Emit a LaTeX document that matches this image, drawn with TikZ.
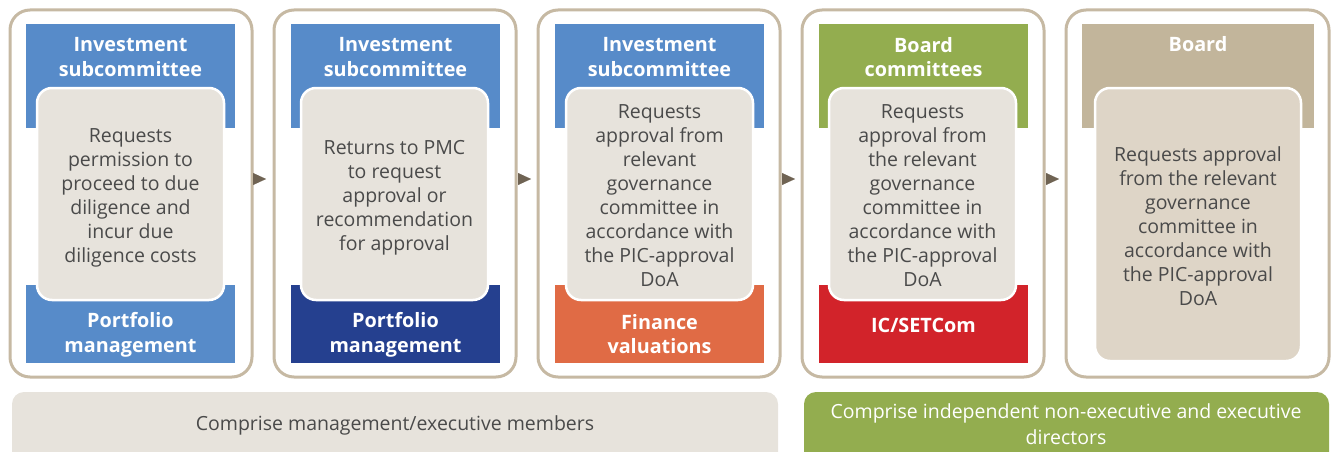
\documentclass[tikz,border=0pt]{standalone}
\usepackage{fontspec}
\setmainfont{Open Sans}
\usetikzlibrary{arrows.meta}
\definecolor{bordc}{HTML}{C6B9A3}
\definecolor{ublue}{HTML}{578BC9}
\definecolor{dblue}{HTML}{25408F}
\definecolor{uorange}{HTML}{E06B45}
\definecolor{ugreen}{HTML}{93AD4F}
\definecolor{ured}{HTML}{D2232A}
\definecolor{utan}{HTML}{C2B59B}
\definecolor{innerc}{HTML}{E7E3DC}
\definecolor{innerd}{HTML}{DED5C7}
\definecolor{txtc}{HTML}{4A4A4A}
\definecolor{arrc}{HTML}{6F6353}
\begin{document}
\begin{tikzpicture}[x=1pt,y=-1pt,
  panel/.style={draw=bordc, line width=3pt, rounded corners=20pt, fill=white,
    minimum width=242pt, minimum height=367pt, anchor=north west, outer sep=0pt, inner sep=0pt},
  hdr/.style={draw=none, minimum width=209pt, minimum height=104pt, anchor=north west, outer sep=0pt, inner sep=0pt},
  ftr/.style={draw=none, minimum width=209pt, minimum height=78pt, anchor=north west, outer sep=0pt, inner sep=0pt},
  htext/.style={text=white, font={\fontsize{19.8}{24.5}\selectfont\bfseries}, align=center, inner sep=0pt},
  inbox/.style={draw=white, line width=2.5pt, fill=innerc, rounded corners=15pt,
    minimum width=187pt, minimum height=212pt, anchor=north west, outer sep=0pt, inner sep=0pt},
  itext/.style={text=txtc, font={\fontsize{19.5}{24}\selectfont}, align=center, inner sep=0pt},
  botbar/.style={draw=none, rounded corners=12pt, minimum height=80pt, anchor=north west, outer sep=0pt, inner sep=0pt},
  btext/.style={font={\fontsize{19.5}{25.5}\selectfont}, align=center, inner sep=0pt},
  arr/.style={draw=arrc, line width=0.1pt, -{Triangle[length=13pt,width=12pt]}, arrc}
]
\useasboundingbox (0,0) rectangle (1332,452);
\clip (0,0) rectangle (1332,452);

% panels
\node[panel] (p1) at (10,10) {};
\node[panel] (p2) at (274,10) {};
\node[panel] (p3) at (538,10) {};
\node[panel] (p4) at (802,10) {};
\node[panel, minimum width=263pt] (p5) at (1066,10) {};

% headers
\node[hdr, fill=ublue] (h1) at (26,24) {};
\node[hdr, fill=ublue] (h2) at (291,24) {};
\node[hdr, fill=ublue] (h3) at (555,24) {};
\node[hdr, fill=ugreen] (h4) at (819,24) {};
\node[hdr, fill=utan, minimum width=232pt] (h5) at (1082,24) {};

% footers
\node[ftr, fill=ublue] (f1) at (26,285) {};
\node[ftr, fill=dblue] (f2) at (291,285) {};
\node[ftr, fill=uorange] (f3) at (555,285) {};
\node[ftr, fill=ured] (f4) at (819,285) {};

% header texts
\node[htext, anchor=north] (ht1) at (130.5,37.5) {Investment\\subcommittee};
\node[htext, anchor=north] (ht2) at (395.5,37.5) {Investment\\subcommittee};
\node[htext, anchor=north] (ht3) at (659.5,37.5) {Investment\\subcommittee};
\node[htext, anchor=north] (ht4) at (923.5,37) {Board\\committees};
\node[htext, anchor=north] (ht5) at (1198,36.5) {Board};

% footer texts
\node[htext] (ft1) at (130.5,335) {Portfolio\\management};
\node[htext] (ft2) at (395.5,335) {Portfolio\\management};
\node[htext] (ft3) at (659.5,334) {Finance\\valuations};
\node[htext] (ft4) at (923.5,325) {IC/SETCom};

% inner boxes
\node[inbox] (b1) at (37,88) {};
\node[inbox] (b2) at (301,88) {};
\node[inbox] (b3) at (566,88) {};
\node[inbox] (b4) at (829,88) {};
\node[inbox, fill=innerd, minimum width=206pt, minimum height=273pt] (b5) at (1095,88) {};

\node[itext] (t1) at (130.5,198) {Requests\\permission to\\proceed to due\\diligence and\\incur due\\diligence costs};
\node[itext] (t2) at (394.5,198) {Returns to PMC\\to request\\approval or\\recommendation\\for approval};
\node[itext] (t3) at (659.5,196) {Requests\\approval from\\relevant\\governance\\committee in\\accordance with\\the PIC-approval\\DoA};
\node[itext] (t4) at (922.5,196) {Requests\\approval from\\the relevant\\governance\\committee in\\accordance with\\the PIC-approval\\DoA};
\node[itext] (t5) at (1198,226)
  {Requests approval\\from the relevant\\governance\\committee in\\accordance with\\the PIC-approval\\DoA};

% arrows
\coordinate (a1) at (253,179); \coordinate (e1) at (266,179);
\coordinate (a2) at (518,179); \coordinate (e2) at (531,179);
\coordinate (a3) at (782,179); \coordinate (e3) at (795,179);
\coordinate (a4) at (1046,179); \coordinate (e4) at (1059,179);
\draw[arr] (a1) -- (e1);
\draw[arr] (a2) -- (e2);
\draw[arr] (a3) -- (e3);
\draw[arr] (a4) -- (e4);

% bottom bars
\node[botbar, fill=innerc, minimum width=766pt] (m1) at (12,392) {};
\node[botbar, fill=ugreen, minimum width=525pt] (m2) at (804,392) {};
\node[btext, text=txtc] (mt1) at (395,425) {Comprise management/executive members};
\node[btext, text=white] (mt2) at (1066,424) {Comprise independent non-executive and executive\\directors};
\end{tikzpicture}
\end{document}
